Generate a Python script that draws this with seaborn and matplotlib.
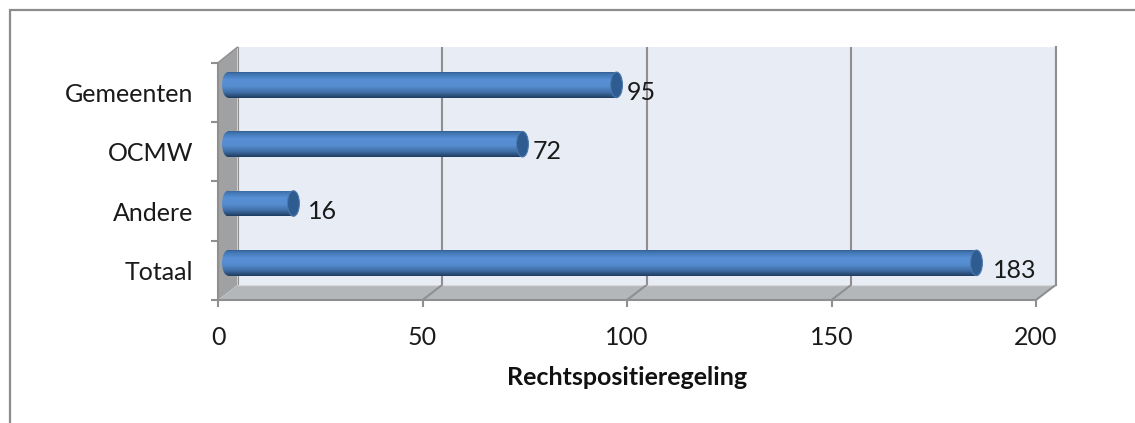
import matplotlib
matplotlib.use("Agg")
import matplotlib.pyplot as plt
from matplotlib.patches import Ellipse, Polygon, Rectangle
import numpy as np
import pandas as pd
import seaborn as sns

categories = ["Gemeenten", "OCMW", "Andere", "Totaal"]
values = [95, 72, 16, 183]
x_ticks = [0, 50, 100, 150, 200]
x_label = "Rechtspositieregeling"

W, H = 1135, 423
GREY = "#8f8f8f"

sns.set_theme(style="white")
plt.rcParams["font.family"] = ["Lato", "DejaVu Sans"]

df = pd.DataFrame({"categorie": categories, "waarde": values})
fig = plt.figure(figsize=(W / 100, H / 100), dpi=100, facecolor="white")


def box(x0, y0, x1, y1):
    # pixel box (y from the top) to figure fractions
    return [x0 / W, 1 - y1 / H, (x1 - x0) / W, (y1 - y0) / H]


# full size layer in pixels for frame, walls and floor
bg = fig.add_axes([0, 0, 1, 1], zorder=0)
bg.set_xlim(0, W)
bg.set_ylim(H, 0)
bg.axis("off")
bg.plot([10, 10, W], [H, 10, 10], color="#8c8c8c", lw=1.6, solid_joinstyle="miter")

# back wall with the grid
back = fig.add_axes(box(237.5, 47, 1055.5, 285), zorder=1, facecolor="#e8ecf5")
back.set_xlim(0, 200)
back.set_xticks(x_ticks)
back.set_yticks([])
back.tick_params(length=0, labelbottom=False)
back.grid(axis="x", color=GREY, lw=1.5)
sns.despine(ax=back, top=True, left=True, bottom=True, right=False)
back.spines["right"].set_color(GREY)
back.spines["right"].set_linewidth(1.5)

# left wall and floor
bg.add_patch(Polygon([(218, 62.7), (237.5, 47), (237.5, 285), (218, 300)], fc="#a0a1a3", ec="none"))
bg.add_patch(Polygon([(218, 300), (237.5, 285), (1055.5, 285), (1036, 300)], fc="#b4b7b9", ec="none"))
bg.plot([237.5, 1055.5], [285, 285], color="#d5d7da", lw=1)
for t in x_ticks[1:]:
    fx = 218 + t * 818 / 200
    bg.plot([fx, fx + 19.5], [300, 285], color=GREY, lw=1.5)
bg.plot([218, 237.5], [62.7, 47], color="#8f9092", lw=1)

# bars sit halfway between wall and front
ax = fig.add_axes(box(228, 55.2, 1046, 292.5), zorder=2, facecolor="none")
sns.barplot(data=df, y="categorie", x="waarde", orient="h", ax=ax, width=0.43,
            color="#4f81bd", saturation=1)
ax.set_xlim(0, 200)
ylim = (3.5, -0.5)
ax.set_ylim(ylim)
ax.axis("off")

stops = np.array([0.0, 0.07, 0.3, 0.55, 0.78, 0.92, 1.0])
cols = np.array([[0x35, 0x5f, 0x92], [0x41, 0x74, 0xb0], [0x58, 0x90, 0xd6], [0x56, 0x8c, 0xd0],
                 [0x40, 0x70, 0xa8], [0x2c, 0x50, 0x7c], [0x20, 0x3d, 0x60]]) / 255
pos = np.linspace(0, 1, 64)
grad = np.stack([np.interp(pos, stops, cols[:, i]) for i in range(3)], axis=1)[:, None, :]

cap_w = 2.9  # data units, about 12 px across
for p, v in zip(ax.patches, values):
    y, h = p.get_y(), p.get_height()
    p.set_visible(False)
    rect = Rectangle((0, y), v, h, transform=ax.transData)
    left = Ellipse((0, y + h / 2), cap_w, h, transform=ax.transData)
    for clip in (left, rect):
        im = ax.imshow(grad, extent=(-cap_w, v, y + h, y), aspect="auto", zorder=3)
        im.set_clip_path(clip)
        if clip is left:
            # the rounded end pokes out to the left of x=0
            im.set_clip_box(fig.bbox)
    ax.add_patch(Ellipse((v, y + h / 2), cap_w, h, fc="#2f5c90", ec="#4a78ad", lw=0.8, zorder=4))
ax.set_xlim(0, 200)
ax.set_ylim(ylim)

# front plane carries ticks and labels
front = fig.add_axes(box(218, 62.7, 1036, 300), zorder=3, facecolor="none")
front.set_xlim(0, 200)
front.set_ylim(ylim)
front.set_xticks(x_ticks)
front.set_yticks(np.arange(-0.5, len(categories)))
front.set_yticklabels([])
front.set_yticks(range(len(categories)), labels=categories, minor=True)
front.tick_params(axis="y", which="major", length=5, width=1.5, color=GREY, left=True)
front.tick_params(axis="y", which="minor", length=0, left=False, pad=18, labelsize=18, labelcolor="#1a1a1a")
front.tick_params(axis="x", length=5, width=1.5, color=GREY, bottom=True, pad=14, labelsize=18, labelcolor="#1a1a1a")
for side in ("top", "right"):
    front.spines[side].set_visible(False)
for side in ("left", "bottom"):
    front.spines[side].set_color(GREY)
    front.spines[side].set_linewidth(1.5)
front.set_xlabel(x_label, fontsize=18, fontweight="bold", color="#111111", labelpad=12)

# value labels, offset in pixels from the bar value
label_dx = [34.5, 34.5, 39.5, 48.5]
for i, (v, dx) in enumerate(zip(values, label_dx)):
    front.annotate(str(v), (v, i), xytext=(dx * 0.72, 0), textcoords="offset points",
                   ha="center", va="center", fontsize=18, color="#1a1a1a")

fig.savefig("out.png", dpi=100)
